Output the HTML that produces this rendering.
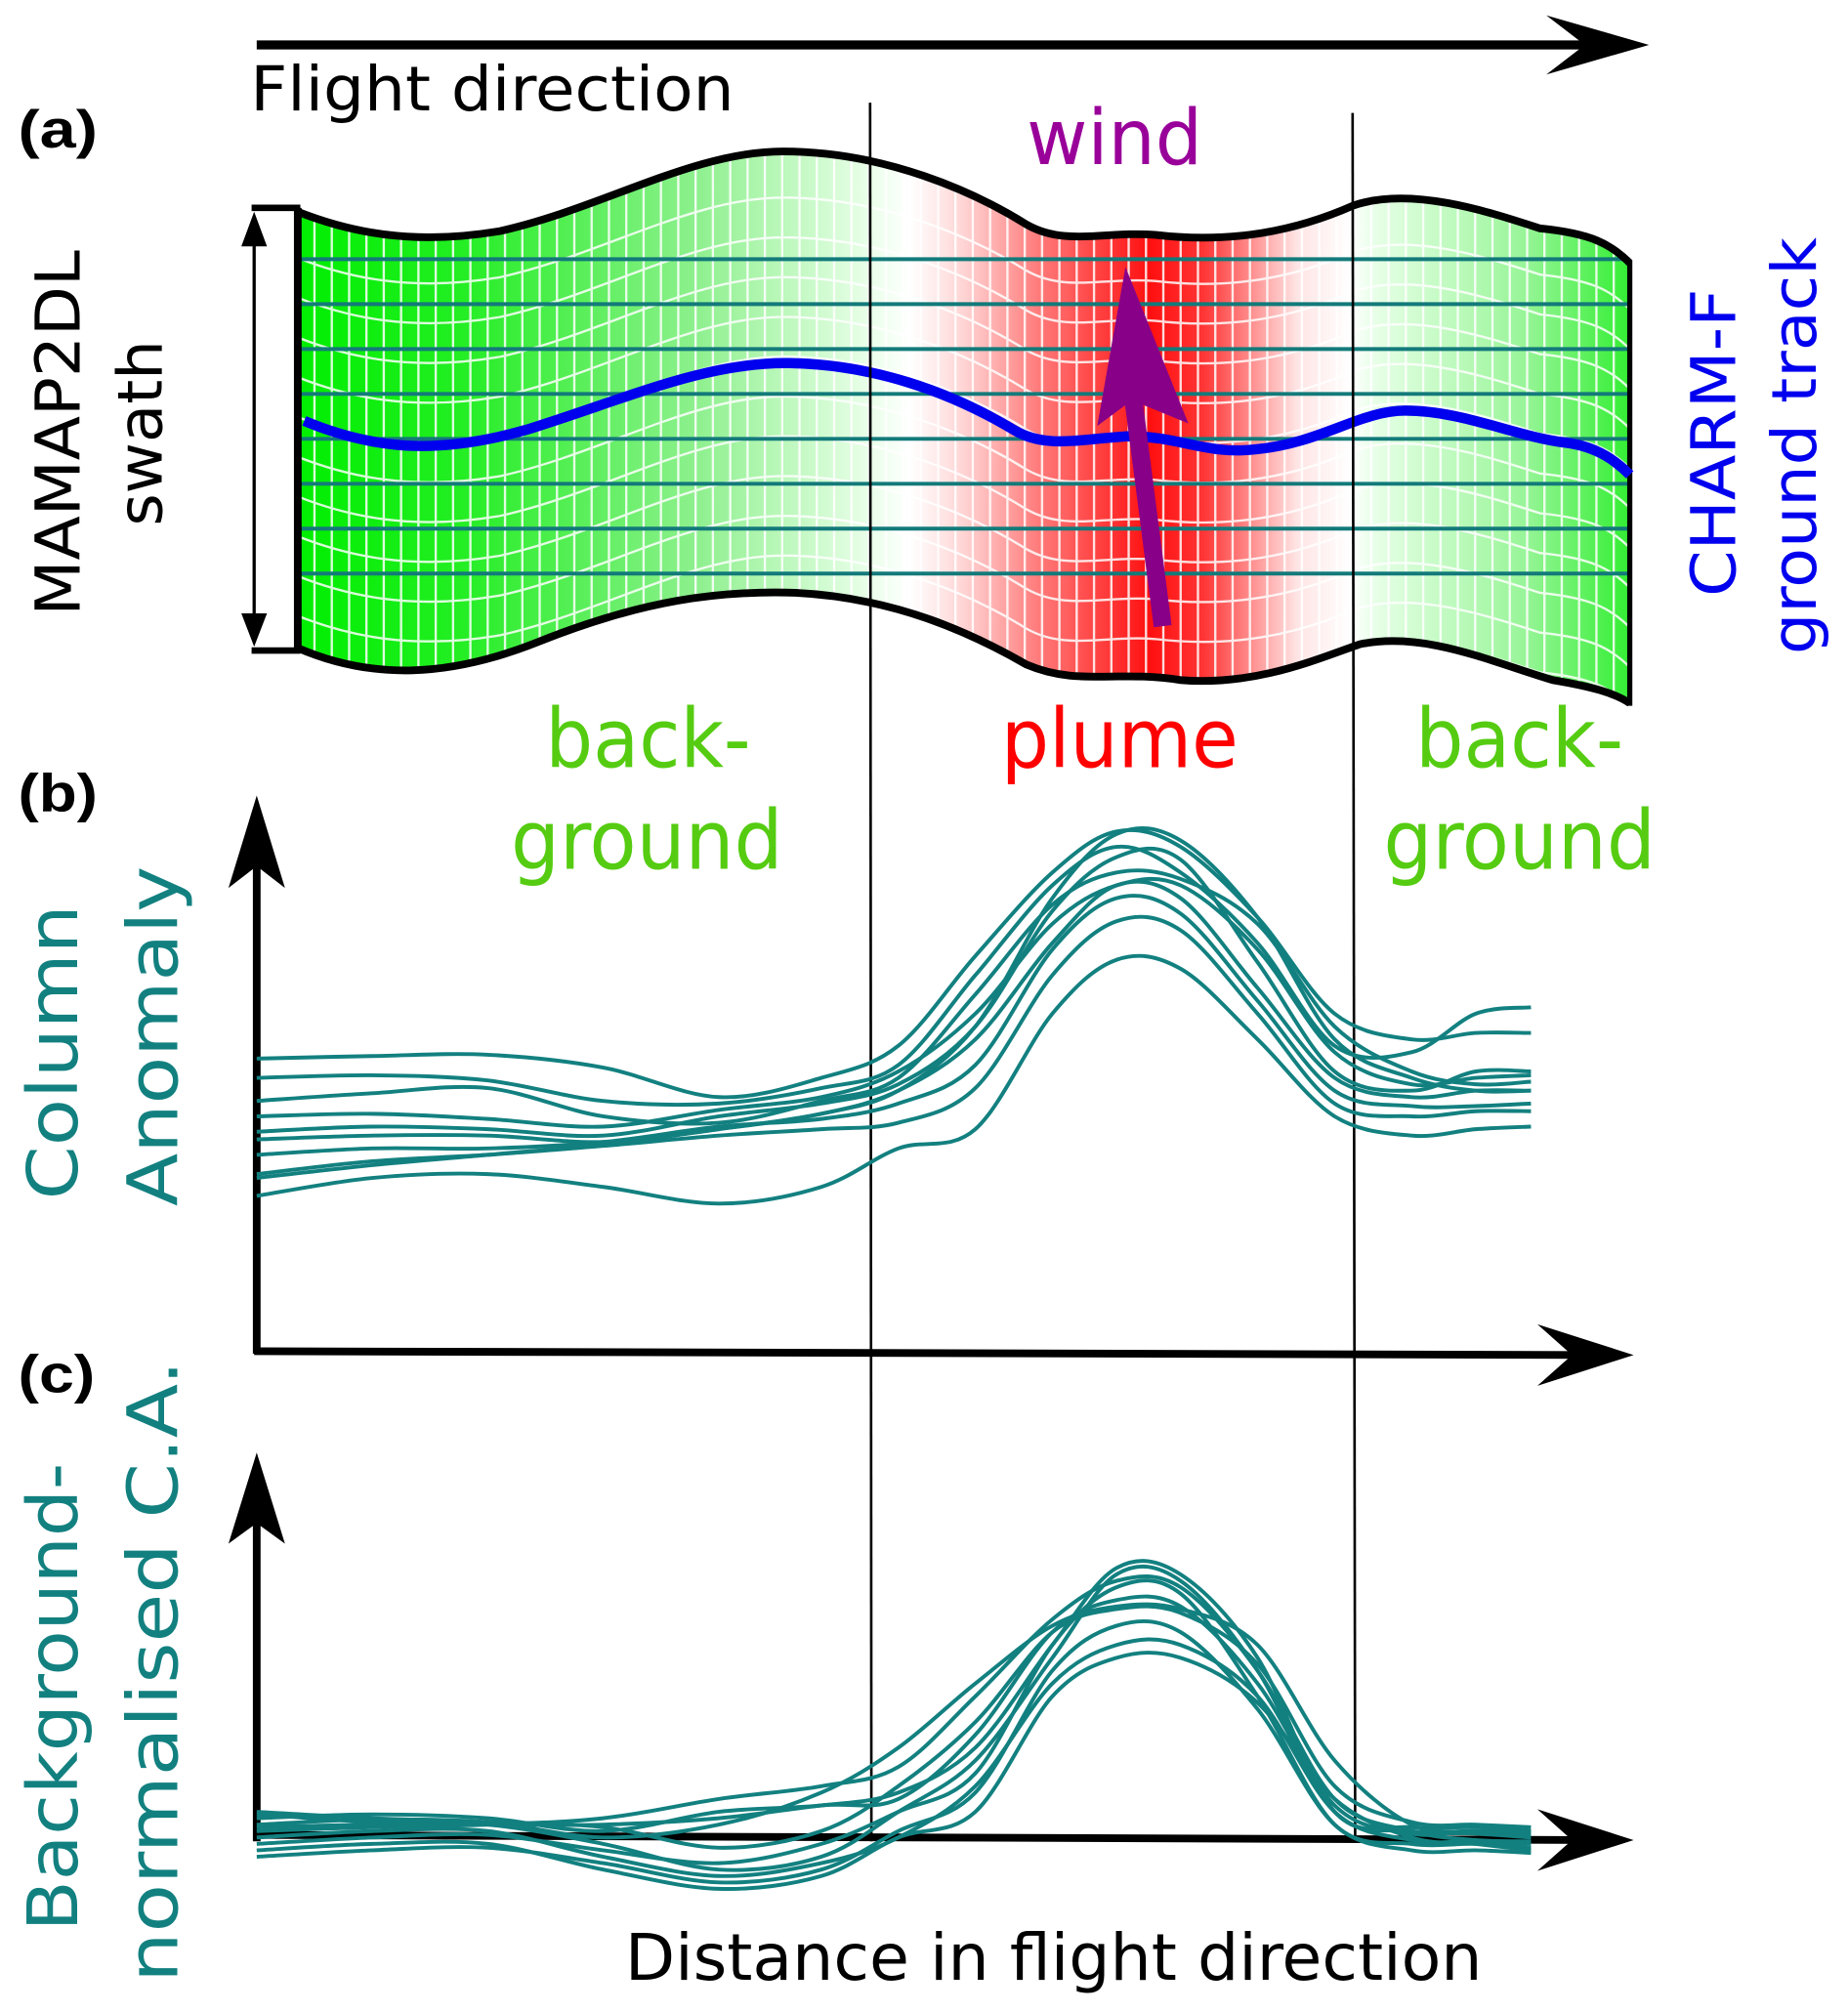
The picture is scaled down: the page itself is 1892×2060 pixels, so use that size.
<!DOCTYPE html>
<html><head><meta charset="utf-8"><style>
html,body{margin:0;padding:0;background:#fff}
svg{display:block}
.t{font-family:"DejaVu Sans Condensed","DejaVu Sans","Liberation Sans",sans-serif}
.w{font-family:"DejaVu Sans","Liberation Sans",sans-serif}
.b{font-family:"Liberation Sans",sans-serif;font-weight:bold}
</style></head><body>
<svg id="fig" width="1892" height="2060" viewBox="0 0 1440 1568" xmlns="http://www.w3.org/2000/svg">
<defs>
<linearGradient id="swg" gradientUnits="userSpaceOnUse" x1="232" y1="0" x2="1270" y2="0">
<stop offset="0" stop-color="#00ee00"/><stop offset="0.12" stop-color="#22ee22"/><stop offset="0.3" stop-color="#8ef08e"/>
<stop offset="0.43" stop-color="#eaffea"/><stop offset="0.46" stop-color="#ffffff"/><stop offset="0.5" stop-color="#ffd4d4"/>
<stop offset="0.56" stop-color="#ff7575"/><stop offset="0.64" stop-color="#ff1010"/><stop offset="0.68" stop-color="#ff3535"/>
<stop offset="0.75" stop-color="#ffe4e4"/><stop offset="0.79" stop-color="#ffffff"/><stop offset="0.81" stop-color="#e6ffe6"/>
<stop offset="0.92" stop-color="#99f599"/><stop offset="1" stop-color="#33ee33"/>
</linearGradient>
<clipPath id="swc"><path d="M232,165 C270,180 320,192 390,180 C470,162 540,118 610,118 C690,118 760,150 800,175 C830,192 860,180 900,183 C960,190 1010,180 1055,160 C1100,145 1160,165 1200,178 C1240,182 1255,190 1270,205 L1270,548 C1258,540 1240,535 1210,530 C1160,515 1110,492 1060,502 C1030,512 980,535 920,530 C870,522 840,535 800,518 C760,495 700,466 620,462 C560,460 500,468 420,500 C350,528 290,530 232,505 Z"/></clipPath>
</defs>

<g>
<line x1="200" y1="35" x2="1250" y2="35" stroke="#000" stroke-width="7"/>
<path d="M1285,35 L1205,12 L1235,35 L1205,58 Z" fill="#000"/>
</g>
<text class="t" x="195" y="86" font-size="48" textLength="377" lengthAdjust="spacingAndGlyphs">Flight direction</text>
<text class="b" x="14" y="115" font-size="42" textLength="62" lengthAdjust="spacingAndGlyphs">(a)</text>
<text class="b" x="14" y="632" font-size="42" textLength="62" lengthAdjust="spacingAndGlyphs">(b)</text>
<text class="b" x="14" y="1085" font-size="42" textLength="60" lengthAdjust="spacingAndGlyphs">(c)</text>

<g>
<path d="M232,165 C270,180 320,192 390,180 C470,162 540,118 610,118 C690,118 760,150 800,175 C830,192 860,180 900,183 C960,190 1010,180 1055,160 C1100,145 1160,165 1200,178 C1240,182 1255,190 1270,205 L1270,548 C1258,540 1240,535 1210,530 C1160,515 1110,492 1060,502 C1030,512 980,535 920,530 C870,522 840,535 800,518 C760,495 700,466 620,462 C560,460 500,468 420,500 C350,528 290,530 232,505 Z" fill="url(#swg)"/>
<g id="grid" clip-path="url(#swc)" stroke="#fff" stroke-width="1.8" fill="none" opacity="0.85"></g>
<g id="teal-rows" stroke="#137a7a" stroke-width="3"></g>
<path d="M232,165 C270,180 320,192 390,180 C470,162 540,118 610,118 C690,118 760,150 800,175 C830,192 860,180 900,183 C960,190 1010,180 1055,160 C1100,145 1160,165 1200,178 C1240,182 1255,190 1270,205" fill="none" stroke="#000" stroke-width="6"/>
<path d="M232,505 C290,530 350,528 420,500 C500,468 560,460 620,462 C700,466 760,495 800,518 C840,535 870,522 920,530 C980,535 1030,512 1060,502 C1110,492 1160,515 1210,530 C1240,535 1258,540 1270,548" fill="none" stroke="#000" stroke-width="6"/>
<line x1="232" y1="162" x2="232" y2="508" stroke="#000" stroke-width="6"/>
<line x1="1270" y1="203" x2="1270" y2="550" stroke="#000" stroke-width="4"/>
<path d="M237,328 C290,350 340,355 410,335 C490,310 550,282 615,283 C680,284 740,305 790,335 C815,350 840,342 880,340 C920,340 940,355 980,350 C1030,345 1060,320 1095,320 C1140,320 1180,340 1220,345 C1245,348 1260,360 1270,370" fill="none" stroke="#0000ee" stroke-width="8"/>
</g>

<g stroke="#000">
<line x1="196" y1="162" x2="234" y2="162" stroke-width="5"/>
<line x1="196" y1="507" x2="234" y2="507" stroke-width="5"/>
<line x1="198" y1="175" x2="198" y2="495" stroke-width="2.5"/>
<path d="M198,165 L188,192 L208,192 Z M198,504 L188,478 L208,478 Z" fill="#000" stroke="none"/>
</g>

<g>
<line x1="906" y1="488" x2="883" y2="310" stroke="#880088" stroke-width="14"/>
<path d="M877,208 L855,332 L882,312 L926,330 Z" fill="#880088"/>
</g>
<text class="t" x="800" y="128" font-size="60" fill="#990099" textLength="137" lengthAdjust="spacingAndGlyphs">wind</text>

<line x1="678" y1="80" x2="679" y2="1435" stroke="#000" stroke-width="2"/>
<line x1="1054" y1="88" x2="1056" y2="1435" stroke="#000" stroke-width="2"/>

<g class="w" font-size="48">
<text transform="translate(62,480) rotate(-90)" textLength="285" lengthAdjust="spacingAndGlyphs">MAMAP2DL</text>
<text transform="translate(126,410) rotate(-90)" textLength="145" lengthAdjust="spacingAndGlyphs">swath</text>
<text transform="translate(1352,465) rotate(-90)" fill="#0000ee" textLength="240" lengthAdjust="spacingAndGlyphs">CHARM-F</text>
<text transform="translate(1415,510) rotate(-90)" fill="#0000ee" textLength="325" lengthAdjust="spacingAndGlyphs">ground track</text>
</g>

<g class="t" font-size="64">
<text fill="#55cc11"><tspan x="425" y="598" textLength="160" lengthAdjust="spacingAndGlyphs">back-</tspan><tspan x="398" y="677" textLength="212" lengthAdjust="spacingAndGlyphs">ground</tspan></text>
<text x="780" y="598" fill="#ff0000" textLength="185" lengthAdjust="spacingAndGlyphs">plume</text>
<text fill="#55cc11"><tspan x="1103" y="598" textLength="162" lengthAdjust="spacingAndGlyphs">back-</tspan><tspan x="1078" y="677" textLength="212" lengthAdjust="spacingAndGlyphs">ground</tspan></text>
</g>

<g>
<line x1="200" y1="1055" x2="200" y2="660" stroke="#000" stroke-width="6"/>
<path d="M200,620 L178,692 L200,675 L222,692 Z" fill="#000"/>
<line x1="198" y1="1053" x2="1235" y2="1056" stroke="#000" stroke-width="6"/>
<path d="M1273,1056 L1198,1032 L1225,1056 L1198,1080 Z" fill="#000"/>
</g>
<g class="w" font-size="54" fill="#138080">
<text transform="translate(60,935) rotate(-90)" textLength="230" lengthAdjust="spacingAndGlyphs">Column</text>
<text transform="translate(138,940) rotate(-90)" textLength="265" lengthAdjust="spacingAndGlyphs">Anomaly</text>
<text transform="translate(60,1505) rotate(-90)" textLength="365" lengthAdjust="spacingAndGlyphs">Background-</text>
<text transform="translate(138,1545) rotate(-90)" textLength="485" lengthAdjust="spacingAndGlyphs">normalised C.A.</text>
</g>
<g id="lines-b" fill="none" stroke="#138080" stroke-width="3"></g>

<g>
<line x1="200" y1="1435" x2="200" y2="1170" stroke="#000" stroke-width="6"/>
<path d="M200,1132 L178,1203 L200,1187 L222,1203 Z" fill="#000"/>
<line x1="198" y1="1430" x2="1235" y2="1434" stroke="#000" stroke-width="6"/>
<path d="M1273,1434 L1198,1410 L1225,1434 L1198,1458 Z" fill="#000"/>
</g>
<g id="lines-c" fill="none" stroke="#138080" stroke-width="3"></g>
<text class="t" x="487" y="1543" font-size="50" textLength="668" lengthAdjust="spacingAndGlyphs">Distance in flight direction</text>
</svg>
<script>
const distances = [0, 90, 180, 270, 360, 440, 500, 560, 620, 670, 720, 780, 840, 900, 950, 993];
const anomalyB = [
 [228,230,231,221,198,213,238,308,373,405,393,338,263,243,248,248],
 [213,215,211,195,193,205,223,293,363,393,373,318,238,233,263,268],
 [195,201,205,183,178,195,213,278,348,373,368,333,253,218,208,210],
 [183,185,181,175,188,198,218,263,333,363,363,313,233,208,213,215],
 [171,175,173,168,183,193,208,253,343,385,383,303,218,203,218,218],
 [165,168,168,163,173,185,203,243,318,363,353,283,213,198,203,203],
 [153,158,158,163,175,181,193,223,313,353,341,273,203,191,191,193],
 [138,148,153,160,168,173,178,205,293,335,328,263,193,183,187,187],
 [121,135,138,128,115,128,158,173,263,305,298,243,183,168,173,175],
 [135,145,153,161,173,185,203,253,353,403,398,338,243,213,203,203]
];
const anomalyC = [
 [18,12,10,-5,-25,-15,20,60,140,205,200,130,20,5,3,0],
 [10,14,12,0,10,35,70,120,165,180,178,150,60,10,5,5],
 [5,8,10,15,30,40,55,110,170,200,195,130,30,5,-2,-3],
 [-5,0,2,-10,-20,-5,20,50,150,195,190,110,10,-5,-5,-8],
 [-15,-10,-8,-20,-35,-25,5,35,130,165,160,100,10,-10,-10,-12],
 [15,18,15,5,20,25,35,70,150,210,205,140,20,8,8,5],
 [0,5,5,-15,-30,-20,0,40,120,150,150,110,20,-2,-3,-5],
 [8,10,10,10,15,25,30,80,160,185,180,120,25,3,5,2],
 [-10,-5,-5,-25,-40,-30,0,20,110,140,140,105,30,0,-5,-10],
 [20,15,12,8,-8,5,40,90,160,178,175,135,40,12,10,8]
];
const NS='http://www.w3.org/2000/svg';
function xScale(d){return 200+d;}
function yScaleB(v){return 1053-v;}
function yScaleC(v){return 1432-v;}
function smooth(pts){
 let d='M'+pts[0][0]+','+pts[0][1];
 for(let i=0;i<pts.length-1;i++){
  const p0=pts[Math.max(0,i-1)],p1=pts[i],p2=pts[i+1],p3=pts[Math.min(pts.length-1,i+2)];
  const c1x=p1[0]+(p2[0]-p0[0])/6,c1y=p1[1]+(p2[1]-p0[1])/6;
  const c2x=p2[0]-(p3[0]-p1[0])/6,c2y=p2[1]-(p3[1]-p1[1])/6;
  d+=' C'+c1x.toFixed(1)+','+c1y.toFixed(1)+' '+c2x.toFixed(1)+','+c2y.toFixed(1)+' '+p2[0]+','+p2[1];
 }
 return d;
}
function draw(gid,series,ys,prefix){
 const g=document.getElementById(gid);
 series.forEach((s,k)=>{
  const p=document.createElementNS(NS,'path');
  p.setAttribute('d',smooth(s.map((v,i)=>[xScale(distances[i]),ys(v)])));
  
  
  g.appendChild(p);
 });
}
draw('lines-b',anomalyB,yScaleB,'panel-b');
draw('lines-c',anomalyC,yScaleC,'panel-c');
const grid=document.getElementById('grid');
for(let x=245;x<1270;x+=13.5){
 const l=document.createElementNS(NS,'line');
 l.setAttribute('x1',x);l.setAttribute('x2',x);l.setAttribute('y1',100);l.setAttribute('y2',560);
 grid.appendChild(l);
}
const wave="C270,180 320,192 390,180 C470,162 540,118 610,118 C690,118 760,150 800,175 C830,192 860,180 900,183 C960,190 1010,180 1055,160 C1100,145 1160,165 1200,178 C1240,182 1255,190 1270,205";
for(let k=1;k<12;k++){
 const p=document.createElementNS(NS,'path');
 p.setAttribute('d','M232,165 '+wave);
 p.setAttribute('transform','translate(0,'+(k*31+5)+')');
 grid.appendChild(p);
}
const rows=document.getElementById('teal-rows');
for(let k=0;k<8;k++){
 const y=202+k*35;
 const l=document.createElementNS(NS,'line');
 l.setAttribute('x1',232);l.setAttribute('x2',1270);l.setAttribute('y1',y);l.setAttribute('y2',y);
 
 
 rows.appendChild(l);
}
</script>
</body></html>
